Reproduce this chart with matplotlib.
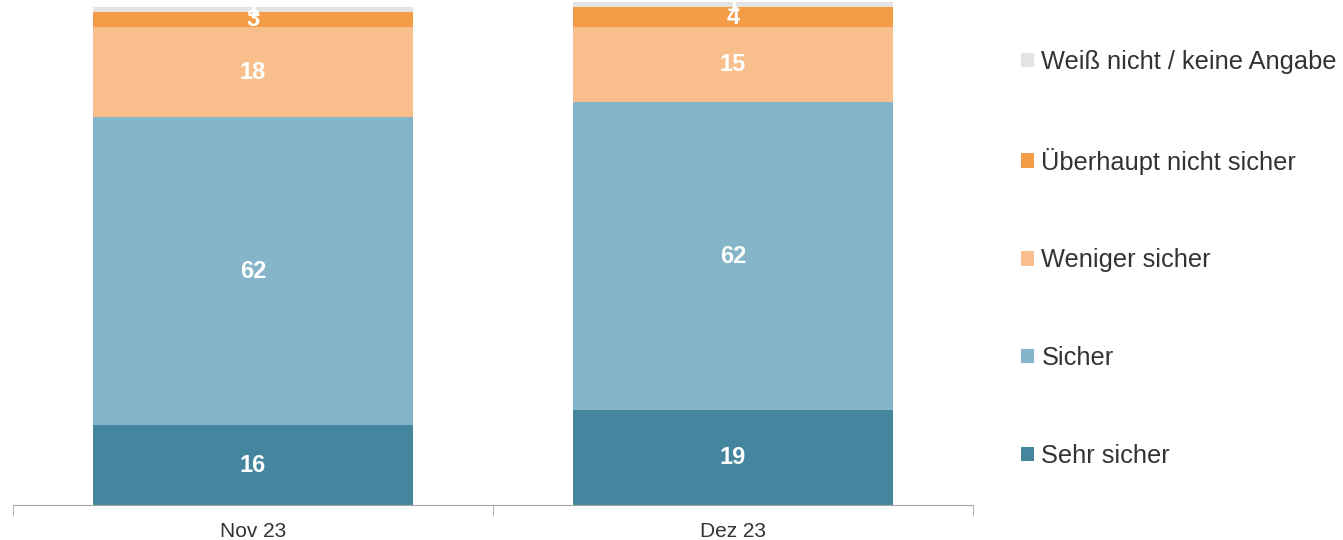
import matplotlib.pyplot as plt
import numpy as np

plt.rcParams['font.family'] = ['Liberation Sans', 'DejaVu Sans']

# Data
categories = ["Nov 23", "Dez 23"]
series = ["Sehr sicher", "Sicher", "Weniger sicher",
          "Überhaupt nicht sicher", "Weiß nicht / keine Angabe"]
sehr_sicher = [16, 19]
sicher = [62, 62]
weniger_sicher = [18, 15]
ueberhaupt_nicht = [3, 4]
weiss_nicht = [1, 1]
values = [sehr_sicher, sicher, weniger_sicher, ueberhaupt_nicht, weiss_nicht]
colors = ["#44869D", "#85B5C8", "#F8BF8C", "#F39C45", "#E3E3E3"]

fig = plt.figure(figsize=(13.43, 5.4), dpi=100)
ax = fig.add_axes([13 / 1343, 35 / 540, 960 / 1343, 505 / 540])

x = np.arange(len(categories))
bottom = np.zeros(len(categories))
handles = []
for name, vals, col in zip(series, values, colors):
    bars = ax.bar(x, vals, 0.667, bottom=bottom, color=col, label=name)
    handles.append(bars)
    for xi, v, b in zip(x, vals, bottom):
        ax.text(xi, b + v / 2, str(v), ha="center", va="center",
                color="white", fontsize=17, fontweight="bold", clip_on=True)
    bottom += np.array(vals)

ax.set_xlim(-0.5, 1.5)
ax.set_ylim(0, 101.5)
ax.set_yticks([])
for s in ["top", "right", "left"]:
    ax.spines[s].set_visible(False)
ax.spines["bottom"].set_color("#A6A6A6")
ax.set_xticks(x)
ax.set_xticklabels(categories, fontsize=15, color="#333333")
ax.tick_params(axis="x", length=0, pad=12)
# category separators as tick marks
ax.set_xticks([-0.5, 0.5, 1.5], minor=True)
ax.tick_params(axis="x", which="minor", length=8, color="#A6A6A6")

leg = ax.legend(handles[::-1], series[::-1], loc="upper left",
                bbox_to_anchor=(1008 / 960, 1.0 - 50 / 505), frameon=False,
                fontsize=18.3, handlelength=0.5, handleheight=0.5,
                handletextpad=0.3, labelspacing=2.9, borderaxespad=0,
                borderpad=0)
for t in leg.get_texts():
    t.set_color("#333333")

fig.savefig("out.png", dpi=100)
